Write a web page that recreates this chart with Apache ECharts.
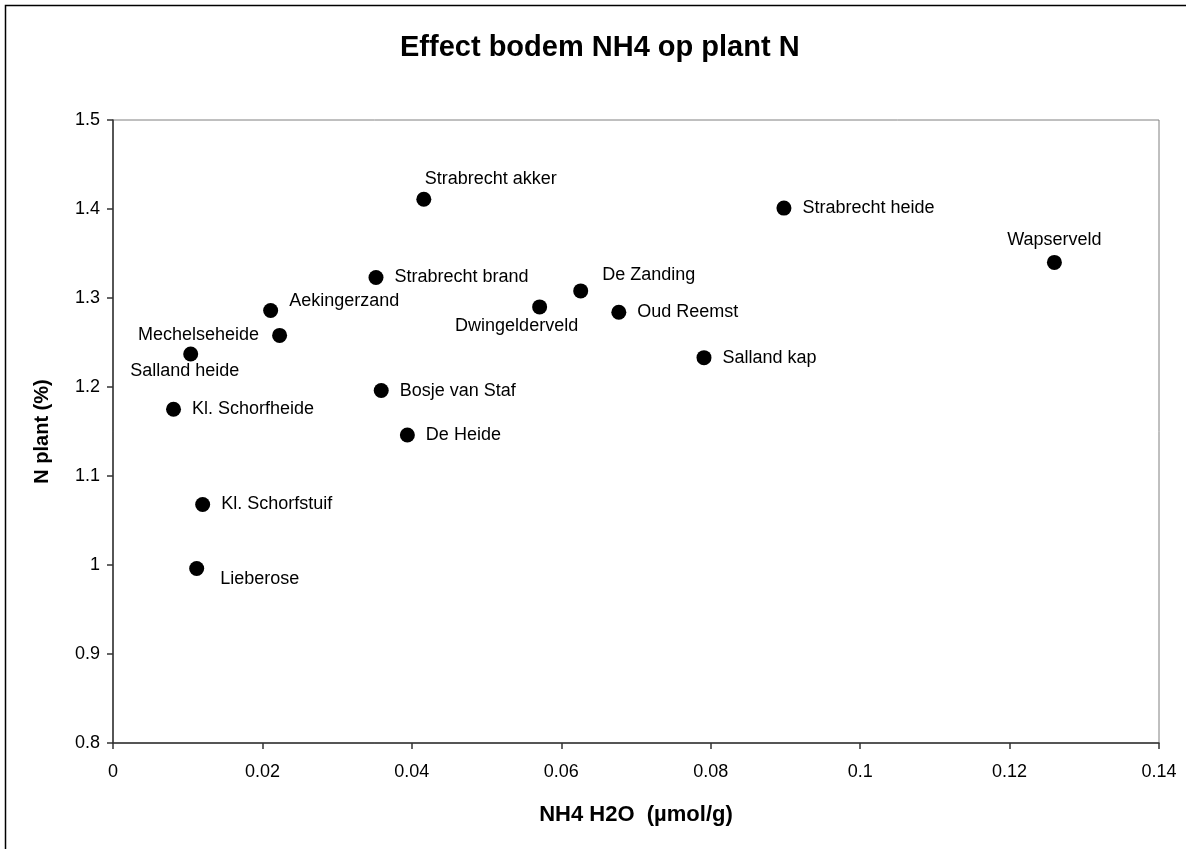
<!DOCTYPE html>
<html>
<head>
<meta charset="utf-8">
<title>Effect bodem NH4 op plant N</title>
<script src="https://cdn.jsdelivr.net/npm/echarts@6/dist/echarts.min.js"></script>
<style>
    html, body {margin: 0; padding: 0; background: #fff;}
    #chart {width: 1186px; height: 849px;}
</style>
</head>
<body>
<div id="chart"></div>
<script>
const sites = [
    'Strabrecht akker', 'Strabrecht heide', 'Wapserveld', 'Strabrecht brand',
    'De Zanding', 'Aekingerzand', 'Mechelseheide', 'Dwingelderveld',
    'Oud Reemst', 'Salland heide', 'Salland kap', 'Bosje van Staf',
    'Kl. Schorfheide', 'De Heide', 'Kl. Schorfstuif', 'Lieberose'
];
const nh4 = [
    0.0416, 0.0898, 0.1260, 0.0352,
    0.0626, 0.0211, 0.0223, 0.0571,
    0.0677, 0.0104, 0.0791, 0.0359,
    0.0081, 0.0394, 0.0120, 0.0112
];
const nPlant = [
    1.411, 1.401, 1.340, 1.323,
    1.308, 1.286, 1.258, 1.290,
    1.284, 1.237, 1.233, 1.196,
    1.175, 1.146, 1.068, 0.996
];

// where a label sits relative to its point (default: right of it)
const labelPlacement = {
    'Strabrecht akker': {position: 'top', align: 'left', offset: [1, 7]},
    'Wapserveld': {position: 'top', distance: 6},
    'Dwingelderveld': {position: 'bottom', offset: [-23, 0], distance: 3},
    'Salland heide': {position: 'bottom', offset: [-6, 0], distance: 0},
    'Mechelseheide': {position: 'left', distance: 13},
    'Lieberose': {offset: [5, 10]},
    'De Zanding': {offset: [3, -16]},
    'Aekingerzand': {offset: [0, -9]}
};

const font = '"Liberation Sans", Arial, sans-serif';

let points = sites.map((name, i) => {
    let item = {name: name, value: [nh4[i], nPlant[i]]};
    if (labelPlacement[name]) item.label = labelPlacement[name];
    return item;
});

let myChart = echarts.init(document.getElementById('chart'));

let option = {
    animation: false,
    backgroundColor: '#fff',
    title: {
        text: 'Effect bodem NH4 op plant N',
        left: 395,
        top: 28,
        textStyle: {fontFamily: font, fontSize: 29, fontWeight: 'bold', color: '#000'}
    },
    graphic: [
        {
            type: 'rect',
            shape: {x: 5.5, y: 5.5, width: 1300, height: 1000},
            style: {fill: 'none', stroke: '#000', lineWidth: 1.5},
            silent: true,
            z: 100
        }
    ],
    grid: {
        left: 113,
        top: 120,
        right: 27,
        bottom: 106,
        show: true,
        borderColor: '#808080',
        borderWidth: 1,
        backgroundColor: '#fff'
    },
    xAxis: {
        type: 'value',
        min: 0,
        max: 0.14,
        interval: 0.02,
        name: 'NH4 H2O  (µmol/g)',
        nameLocation: 'middle',
        nameGap: 61,
        nameTextStyle: {fontFamily: font, fontSize: 22, fontWeight: 'bold', color: '#000'},
        axisLine: {show: true, lineStyle: {color: '#333', width: 1.5}},
        axisTick: {show: true, length: 6, lineStyle: {color: '#333', width: 1.5}},
        axisLabel: {
            margin: 20,
            fontFamily: font, fontSize: 18, color: '#000',
            formatter: v => String(+v.toFixed(2))
        },
        splitLine: {show: false}
    },
    yAxis: {
        type: 'value',
        min: 0.8,
        max: 1.5,
        interval: 0.1,
        name: 'N plant (%)',
        nameLocation: 'middle',
        nameGap: 61,
        nameTextStyle: {fontFamily: font, fontSize: 20, fontWeight: 'bold', color: '#000'},
        axisLine: {show: true, lineStyle: {color: '#333', width: 1.5}},
        axisTick: {show: true, length: 6, lineStyle: {color: '#333', width: 1.5}},
        axisLabel: {
            margin: 13,
            fontFamily: font, fontSize: 18, color: '#000',
            formatter: v => String(+v.toFixed(1))
        },
        splitLine: {show: false}
    },
    series: [
        {
            type: 'scatter',
            symbol: 'circle',
            symbolSize: 15,
            itemStyle: {color: '#000', opacity: 1},
            label: {
                show: true,
                position: 'right',
                distance: 11,
                formatter: '{b}',
                fontFamily: font,
                fontSize: 18,
                color: '#000'
            },
            data: points
        }
    ]
};

myChart.setOption(option);
</script>
</body>
</html>
